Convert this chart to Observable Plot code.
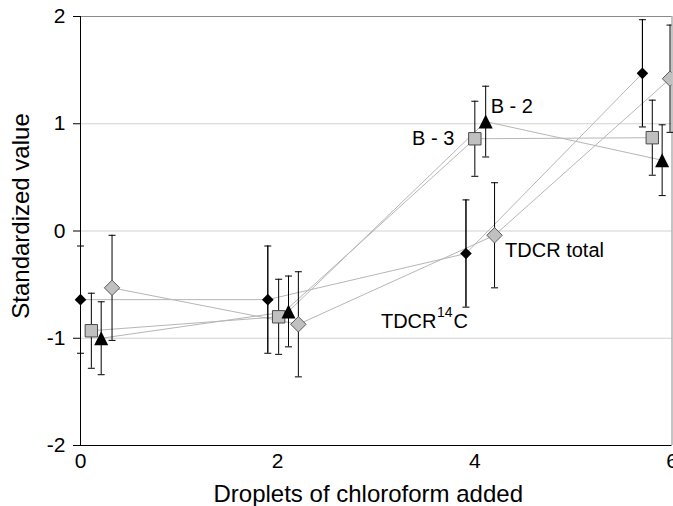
<!DOCTYPE html>
<html>
<head>
<meta charset="utf-8">
<script src="https://cdn.jsdelivr.net/npm/d3@7"></script>
<script src="https://cdn.jsdelivr.net/npm/@observablehq/plot@0.6"></script>
<style>
  html, body { margin: 0; padding: 0; background: white; }
</style>
</head>
<body>
<div id="chart"></div>
<script>
// ---- data ----
const xTicks = [0, 2, 4, 6];
const yTicks = [-2, -1, 0, 1, 2];
const gridValues = [-1, 0, 1];

const seriesNames = ["TDCR 14C", "TDCR total", "B - 3", "B - 2"];

const tdcr14cX   = [0.00, 1.90, 3.91, 5.70];
const tdcr14cY   = [-0.64, -0.64, -0.21, 1.47];
const tdcr14cErr = [0.50, 0.50, 0.50, 0.50];

const tdcrTotalX   = [0.32, 2.21, 4.20, 5.98];
const tdcrTotalY   = [-0.53, -0.87, -0.04, 1.42];
const tdcrTotalErr = [0.49, 0.49, 0.49, 0.50];

const b3X   = [0.11, 2.01, 4.00, 5.80];
const b3Y   = [-0.93, -0.80, 0.86, 0.87];
const b3Err = [0.35, 0.35, 0.35, 0.35];

const b2X   = [0.21, 2.11, 4.11, 5.90];
const b2Y   = [-1.00, -0.75, 1.02, 0.66];
const b2Err = [0.34, 0.33, 0.33, 0.33];

// ---- table built from the arrays ----
const rows = [];
function addSeries(name, xs, ys, es) {
  xs.forEach((x, i) => rows.push({series: name, i, x, y: ys[i], lo: ys[i] - es[i], hi: ys[i] + es[i]}));
}
addSeries(seriesNames[0], tdcr14cX, tdcr14cY, tdcr14cErr);
addSeries(seriesNames[1], tdcrTotalX, tdcrTotalY, tdcrTotalErr);
addSeries(seriesNames[2], b3X, b3Y, b3Err);
addSeries(seriesNames[3], b2X, b2Y, b2Err);
const bySeries = (name) => rows.filter(d => d.series === name);
const pointAt = (name, i) => rows.filter(d => d.series === name && d.i === i);

// ---- custom symbols (r = half-size in pixels) ----
const rad = (size) => Math.sqrt(size / Math.PI);
const diamondSym = {draw(ctx, size) { const r = rad(size); ctx.moveTo(0, -r); ctx.lineTo(r, 0); ctx.lineTo(0, r); ctx.lineTo(-r, 0); ctx.closePath(); }};
const squareSym = {draw(ctx, size) { const r = rad(size); ctx.moveTo(-r, -r); ctx.lineTo(r, -r); ctx.lineTo(r, r); ctx.lineTo(-r, r); ctx.closePath(); }};
const triangleSym = {draw(ctx, size) { const r = rad(size); ctx.moveTo(0, -r); ctx.lineTo(r, r); ctx.lineTo(-r, r); ctx.closePath(); }};
const capSym = {draw(ctx, size) { const r = rad(size); ctx.moveTo(-r, 0); ctx.lineTo(r, 0); }};

const font = "Liberation Sans, Arial, Helvetica, sans-serif";

const chart = Plot.plot({
  width: 673,
  height: 506,
  marginLeft: 80,
  marginRight: 1.5,
  marginTop: 16,
  marginBottom: 61,
  x: {domain: [0, 6], label: null},
  y: {domain: [-2, 2], label: null},
  style: {fontFamily: font, fontSize: "21px", background: "white", color: "black"},
  marks: [
    Plot.ruleY(gridValues, {stroke: "#d2d2d2", strokeOpacity: 1}),
    Plot.ruleY([2], {stroke: "#8a8a8a", strokeOpacity: 1}),
    Plot.ruleX([6], {stroke: "#8a8a8a", strokeOpacity: 1}),
    Plot.line(rows, {x: "x", y: "y", z: "series", stroke: "#b6b6b6", strokeWidth: 1}),
    Plot.ruleX(rows, {x: "x", y1: "lo", y2: "hi", stroke: "black", strokeOpacity: 1, clip: true}),
    Plot.ruleX(bySeries(seriesNames[0]), {x: "x", y1: "lo", y2: "hi", stroke: "black", strokeOpacity: 1}),
    Plot.dot(rows, {x: "x", y: "lo", symbol: capSym, r: 3.5, stroke: "black", fill: "none", strokeWidth: 1}),
    Plot.dot(rows.filter(d => d.series !== seriesNames[1]), {x: "x", y: "hi", symbol: capSym, r: 3.5, stroke: "black", fill: "none", strokeWidth: 1}),
    Plot.dot(bySeries(seriesNames[1]), {x: "x", y: "hi", symbol: capSym, r: 3.5, stroke: "black", fill: "none", strokeWidth: 1, clip: true}),
    // markers
    Plot.dot(bySeries(seriesNames[1]), {x: "x", y: "y", symbol: diamondSym, r: 7.7, fill: "#c0c0c0", stroke: "#5a5a5a", strokeWidth: 1, clip: true}),
    Plot.dot(bySeries(seriesNames[2]), {x: "x", y: "y", symbol: squareSym, r: 6.2, fill: "#c0c0c0", stroke: "#4a4a4a", strokeWidth: 1}),
    Plot.dot(bySeries(seriesNames[3]), {x: "x", y: "y", symbol: triangleSym, r: 7, fill: "black", stroke: "none"}),
    Plot.dot(bySeries(seriesNames[0]), {x: "x", y: "y", symbol: diamondSym, r: 5.8, fill: "black", stroke: "none"}),
    // axes
    Plot.ruleX([0], {stroke: "black", strokeOpacity: 1}),
    Plot.ruleY([-2], {stroke: "black", strokeOpacity: 1}),
    Plot.axisY({ticks: yTicks, tickSize: 7, tickPadding: 8, tickFormat: d => String(d), label: null, fontSize: 21}),
    Plot.axisX({ticks: xTicks, tickSize: 0, tickPadding: 8, tickFormat: d => String(d), label: null, fontSize: 21}),
    // axis titles
    Plot.text(["Droplets of chloroform added"], {text: d => d, frameAnchor: "bottom", textAnchor: "middle", lineAnchor: "middle", dx: -8, dy: 48.5, fontSize: 24}),
    Plot.text(["Standardized value"], {text: d => d, frameAnchor: "left", textAnchor: "middle", lineAnchor: "middle", rotate: -90, dx: -59, dy: -15, fontSize: 24}),
    // series labels, anchored at each series' point near 4 droplets
    Plot.text(pointAt(seriesNames[3], 2), {x: "x", y: "y", text: d => d.series, textAnchor: "start", dx: 5, dy: -15.5, fontSize: 20}),
    Plot.text(pointAt(seriesNames[2], 2), {x: "x", y: "y", text: d => d.series, textAnchor: "end", dx: -20.5, dy: 0, fontSize: 20}),
    Plot.text(pointAt(seriesNames[1], 2), {x: "x", y: "y", text: d => d.series, textAnchor: "start", dx: 10.5, dy: 15.3, fontSize: 20}),
    Plot.text(pointAt(seriesNames[0], 2), {x: "x", y: "y", text: () => "TDCR", textAnchor: "start", dx: -85, dy: 68, fontSize: 20}),
    Plot.text(pointAt(seriesNames[0], 2), {x: "x", y: "y", text: () => "14", textAnchor: "start", dx: -29, dy: 59, fontSize: 14}),
    Plot.text(pointAt(seriesNames[0], 2), {x: "x", y: "y", text: () => "C", textAnchor: "start", dx: -12.5, dy: 68, fontSize: 20})
  ]
});
document.getElementById("chart").appendChild(chart);
</script>
</body>
</html>
